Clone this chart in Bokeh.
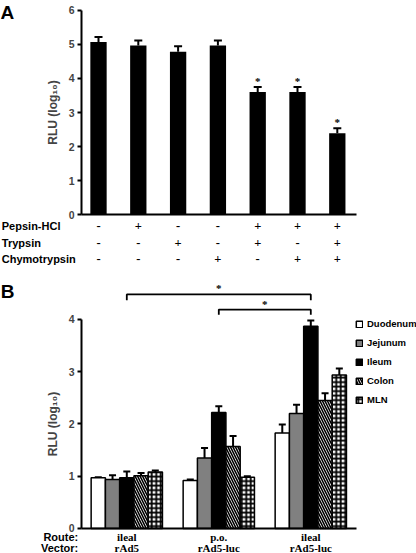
from bokeh.plotting import figure
from bokeh.models import (ColumnDataSource, LabelSet, Label, Whisker, TeeHead,
                          FixedTicker, Range1d, Legend, LegendItem, LinearAxis)
from bokeh.layouts import column
from bokeh.embed import file_html
from bokeh.resources import INLINE

# ---------------- Panel A data ----------------
a_values = [5.07, 4.97, 4.79, 4.97, 3.60, 3.60, 2.39]
a_errors = [0.15, 0.15, 0.16, 0.15, 0.15, 0.15, 0.15]
a_signif = ["", "", "", "", "*", "*", "*"]
treat_names = ["Pepsin-HCl", "Trypsin", "Chymotrypsin"]
pepsin = ["-", "+", "-", "-", "+", "+", "+"]
trypsin = ["-", "-", "+", "-", "+", "-", "+"]
chymotrypsin = ["-", "-", "-", "+", "-", "+", "+"]
a_ticks = [0, 1, 2, 3, 4, 5, 6]

# ---------------- Panel B data ----------------
tissues = ["Duodenum", "Jejunum", "Ileum", "Colon", "MLN"]
routes = ["ileal", "p.o.", "ileal"]
vectors = ["rAd5", "rAd5-luc", "rAd5-luc"]
duodenum = [0.97, 0.92, 1.83]
jejunum = [0.94, 1.35, 2.20]
ileum = [0.97, 2.22, 3.87]
colon = [1.01, 1.57, 2.45]
mln = [1.08, 0.98, 2.94]
duodenum_err = [0.01, 0.02, 0.16]
jejunum_err = [0.08, 0.19, 0.17]
ileum_err = [0.12, 0.12, 0.11]
colon_err = [0.05, 0.20, 0.14]
mln_err = [0.03, 0.02, 0.12]
b_ticks = [0, 1, 2, 3, 4]
comparisons = [(0, 2, "*"), (1, 2, "*")]  # ileum of group i vs ileum of group j

FONT = "Liberation Sans"
TXT = dict(text_font=FONT, text_font_style="bold", text_color="black")


def add_axes(p, x_loc, x_bounds, ticks, y_bounds, label):
    p.outline_line_color = None
    p.background_fill_color = "white"
    ya = LinearAxis(fixed_location=x_loc, bounds=y_bounds, ticker=FixedTicker(ticks=ticks),
                    axis_line_width=2, major_tick_line_width=2, major_tick_in=0,
                    major_tick_out=4, minor_tick_line_color=None,
                    major_label_text_font=FONT, major_label_text_font_style="bold",
                    major_label_text_font_size="10.5px", major_label_standoff=3,
                    axis_label=label, axis_label_text_font=FONT,
                    axis_label_text_font_style="bold", axis_label_text_font_size="12px",
                    axis_label_standoff=6)
    p.add_layout(ya, "left")
    xa = LinearAxis(fixed_location=0, bounds=x_bounds, ticker=FixedTicker(ticks=[]),
                    axis_line_width=2, major_tick_line_color=None, minor_tick_line_color=None)
    p.add_layout(xa, "below")


# ================= Panel A =================
nA = len(a_values)
srcA = ColumnDataSource(dict(
    x=list(range(nA)), top=a_values,
    upper=[v + e for v, e in zip(a_values, a_errors)],
    sig=a_signif, zero=[0] * nA,
    r0=pepsin, r1=trypsin, r2=chymotrypsin,
))

pA = figure(width=416, height=280, x_range=Range1d(-2.4623, 7.9899),
            y_range=Range1d(-1.941, 6.294), x_axis_type=None, y_axis_type=None,
            output_backend="svg", toolbar_location=None, min_border=0)
pA.grid.visible = False
add_axes(pA, -0.4271, (-0.4271, 6.4824), a_ticks, (0, 6), "RLU (log₁₀)")

pA.vbar(x="x", top="top", width=0.41, source=srcA, fill_color="black", line_color=None)
pA.add_layout(Whisker(source=srcA, base="x", upper="upper", lower="top", dimension="height",
                      upper_head=TeeHead(size=8, line_width=2, line_color="black"),
                      lower_head=None, line_width=2, line_color="black"))
pA.add_layout(LabelSet(source=srcA, x="x", y="upper", text="sig", text_align="center",
                       text_baseline="bottom", y_offset=0, text_font_size="11px", **TXT))

row_offsets = [-11.5, -28, -44.5]
for col, name, off in zip(["r0", "r1", "r2"], treat_names, row_offsets):
    pA.add_layout(LabelSet(source=srcA, x="x", y="zero", text=col, text_align="center",
                           text_baseline="middle", y_offset=off, text_font_size="12.5px", **TXT))
    pA.add_layout(Label(x=-2.43, y=0, y_offset=off, text=name, text_align="left",
                        text_baseline="middle", text_font_size="11px", **TXT))

pA.add_layout(Label(x=-2.46, y=6.24, text="A", text_align="left", text_baseline="top",
                    text_font_size="19px", **TXT))

# ================= Panel B =================
series = [duodenum, jejunum, ileum, colon, mln]
errors = [duodenum_err, jejunum_err, ileum_err, colon_err, mln_err]
styles = [
    dict(fill_color="white"),
    dict(fill_color="#808080"),
    dict(fill_color="black"),
    dict(fill_color="white", hatch_pattern="left_diagonal_line", hatch_color="black",
         hatch_scale=5, hatch_weight=1.6),
    dict(fill_color="white", hatch_pattern="cross", hatch_color="black",
         hatch_scale=4.5, hatch_weight=1.8),
]
bw = 0.155
nG = len(routes)

pB = figure(width=416, height=273, x_range=Range1d(-1.3728, 3.1489),
            y_range=Range1d(-0.4785, 4.7464), x_axis_type=None, y_axis_type=None,
            output_backend="svg", toolbar_location=None, min_border=0)
pB.grid.visible = False
add_axes(pB, -0.4924, (-0.4924, 2.4967), b_ticks, (0, 4), "RLU (log₁₀)")

items = []
for k, (name, vals, errs, st) in enumerate(zip(tissues, series, errors, styles)):
    xs = [g + (k - 2) * bw for g in range(nG)]
    src = ColumnDataSource(dict(x=xs, top=vals, upper=[v + e for v, e in zip(vals, errs)]))
    r = pB.vbar(x="x", top="top", width=bw, source=src, line_color="black", line_width=1.5, **st)
    pB.add_layout(Whisker(source=src, base="x", upper="upper", lower="top", dimension="height",
                          upper_head=TeeHead(size=7, line_width=2, line_color="black"),
                          lower_head=None, line_width=2, line_color="black"))
    items.append(LegendItem(label=name, renderers=[r]))

legend = Legend(items=items, location=(355, 148), glyph_width=8, glyph_height=8,
                label_height=8, spacing=8, padding=0, margin=0, label_standoff=4,
                label_text_font=FONT, label_text_font_style="bold", label_text_font_size="9.5px",
                label_text_color="black", border_line_color=None, background_fill_alpha=0)
pB.add_layout(legend)

# significance brackets
br_levels = [(4.48, 4.37), (4.19, 4.09)]
bx, by, sx, sy, st = [], [], [], [], []
for (g0, g1, mark), (ytop, ylow) in zip(comparisons, br_levels):
    bx.append([g0, g0, g1, g1])
    by.append([ylow, ytop, ytop, ylow])
    sx.append((g0 + g1) / 2)
    sy.append(ytop)
    st.append(mark)
pB.multi_line(xs=bx, ys=by, line_color="black", line_width=1.8)
pB.add_layout(LabelSet(source=ColumnDataSource(dict(x=sx, y=sy, t=st)), x="x", y="y", text="t",
                       text_align="center", text_baseline="bottom", y_offset=0,
                       text_font_size="11px", **TXT))

grp_src = ColumnDataSource(dict(x=list(range(nG)), zero=[0] * nG, route=routes, vector=vectors))
for col, off in (("route", -9), ("vector", -20)):
    pB.add_layout(LabelSet(source=grp_src, x="x", y="zero", text=col, text_align="center",
                           text_baseline="middle", y_offset=off, text_font_size="11px", **TXT))
for txt, off in (("Route:", -9), ("Vector:", -20)):
    pB.add_layout(Label(x=-0.528, y=0, y_offset=off, text=txt, text_align="right",
                        text_baseline="middle", text_font_size="11px", **TXT))

pB.add_layout(Label(x=-1.37, y=4.73, text="B", text_align="left", text_baseline="top",
                    text_font_size="19px", **TXT))

layout = column(pA, pB, spacing=0)

with open("out.html", "w") as f:
    f.write(file_html(layout, INLINE))
